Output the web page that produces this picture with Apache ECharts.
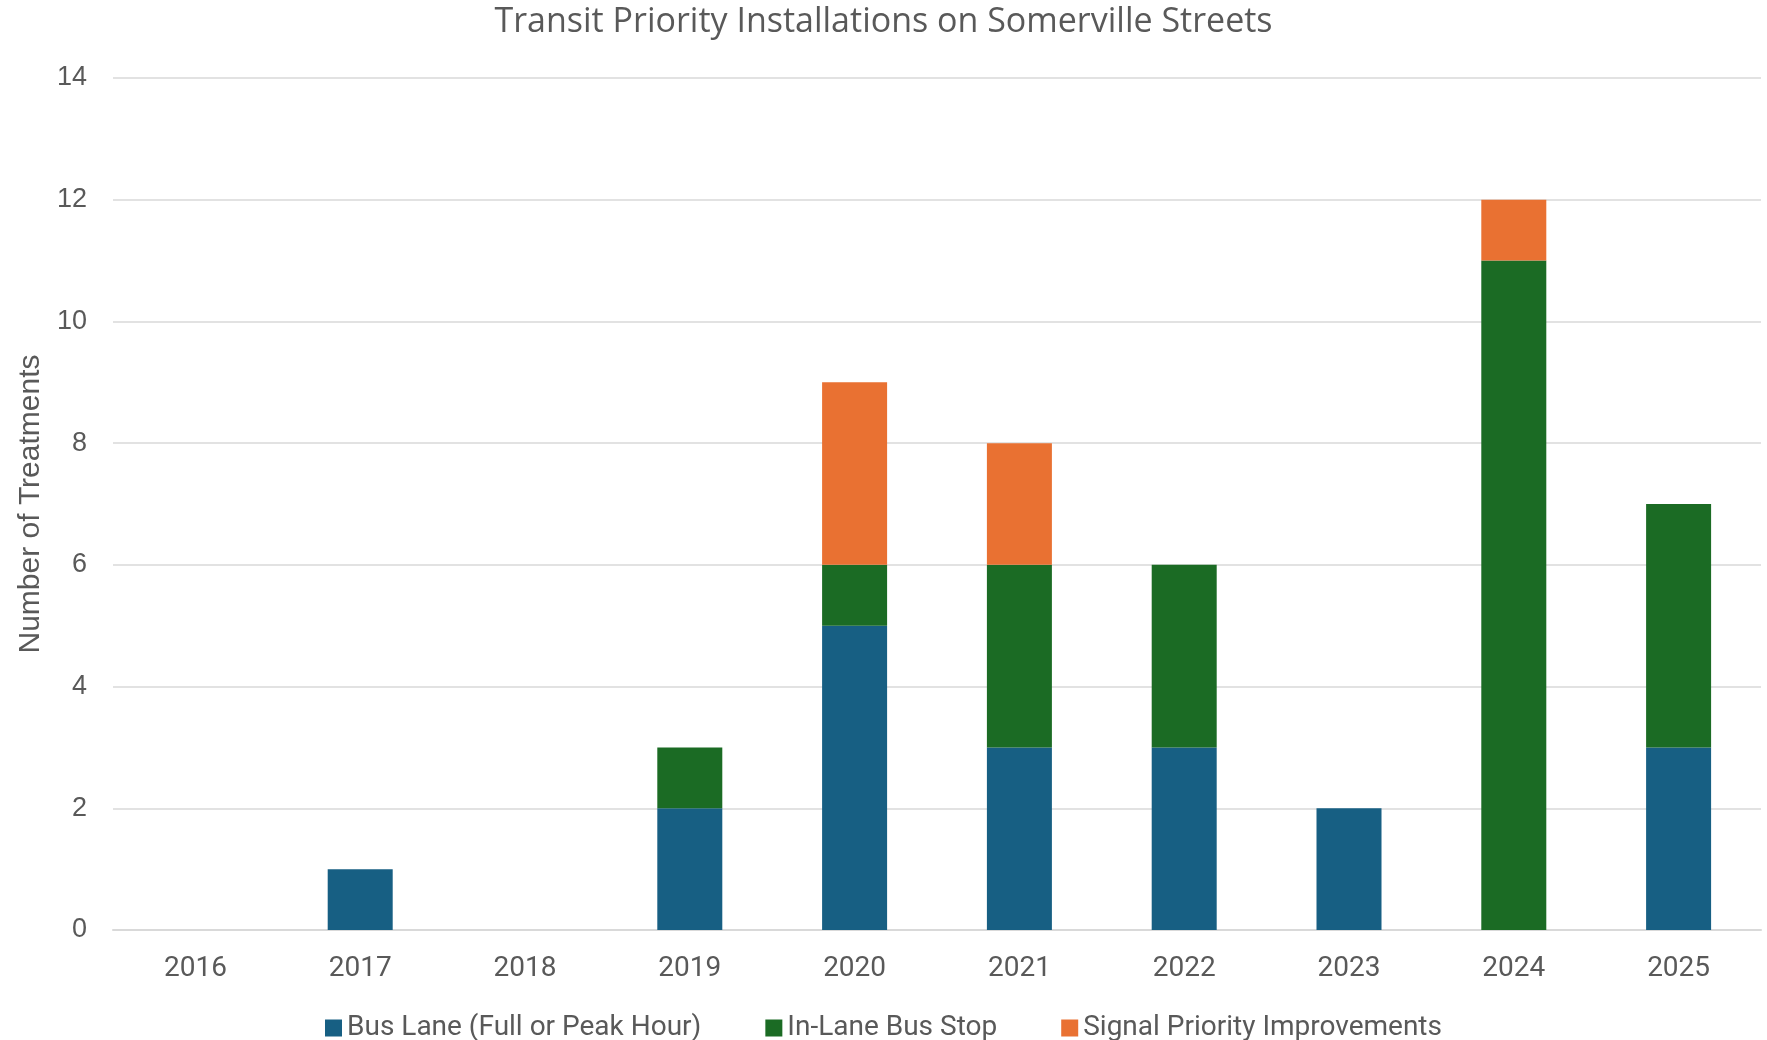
<!DOCTYPE html>
<html><head><meta charset="utf-8">
<script src="https://cdn.jsdelivr.net/npm/echarts@6/dist/echarts.min.js"></script>
<style>html,body{margin:0;padding:0;background:#fff}#c{width:1767px;height:1040px}</style>
</head><body><div id="c"></div>
<script>
const categories = ['2016','2017','2018','2019','2020','2021','2022','2023','2024','2025'];
const busLane = [0,1,0,2,5,3,3,2,0,3];
const inLaneStop = [0,0,0,1,1,3,3,0,11,4];
const signalPriority = [0,0,0,0,3,2,0,0,1,0];
const yTicks = [0,2,4,6,8,10,12,14];

const chart = echarts.init(document.getElementById('c'));
const txt = '#595959';
chart.setOption({
  animation:false,
  title:{text:'Transit Priority Installations on Somerville Streets',left:'center',top:0,
    textStyle:{fontFamily:'Open Sans',fontWeight:'normal',fontSize:34,color:txt}},
  legend:{top:1009,left:'center',itemWidth:17,itemHeight:17,itemGap:64,icon:'rect',
    textStyle:{fontFamily:'Roboto',fontSize:28,color:txt}},
  grid:{left:113,right:6,top:78,bottom:110},
  xAxis:{type:'category',data:categories,
    axisLine:{lineStyle:{color:'#d9d9d9',width:2}},axisTick:{show:false},
    axisLabel:{fontFamily:'Roboto',fontSize:28,color:txt,margin:25}},
  yAxis:{type:'value',min:0,max:14,interval:2,
    name:'Number of Treatments',nameLocation:'middle',nameGap:66,
    nameTextStyle:{fontFamily:'Liberation Sans',fontSize:30,color:txt},
    axisLabel:{fontFamily:'Liberation Sans',fontSize:27,color:txt,margin:26,
      formatter:v=>yTicks.includes(v)?String(v):''},
    splitLine:{lineStyle:{color:'#d9d9d9',width:1.5}}},
  series:[
    {name:'Bus Lane (Full or Peak Hour)',type:'bar',stack:'t',data:busLane,barWidth:65,itemStyle:{color:'#175F83'}},
    {name:'In-Lane Bus Stop',type:'bar',stack:'t',data:inLaneStop,barWidth:65,itemStyle:{color:'#1B6B24'}},
    {name:'Signal Priority Improvements',type:'bar',stack:'t',data:signalPriority,barWidth:65,itemStyle:{color:'#E97132'}}
  ]
});
</script></body></html>
